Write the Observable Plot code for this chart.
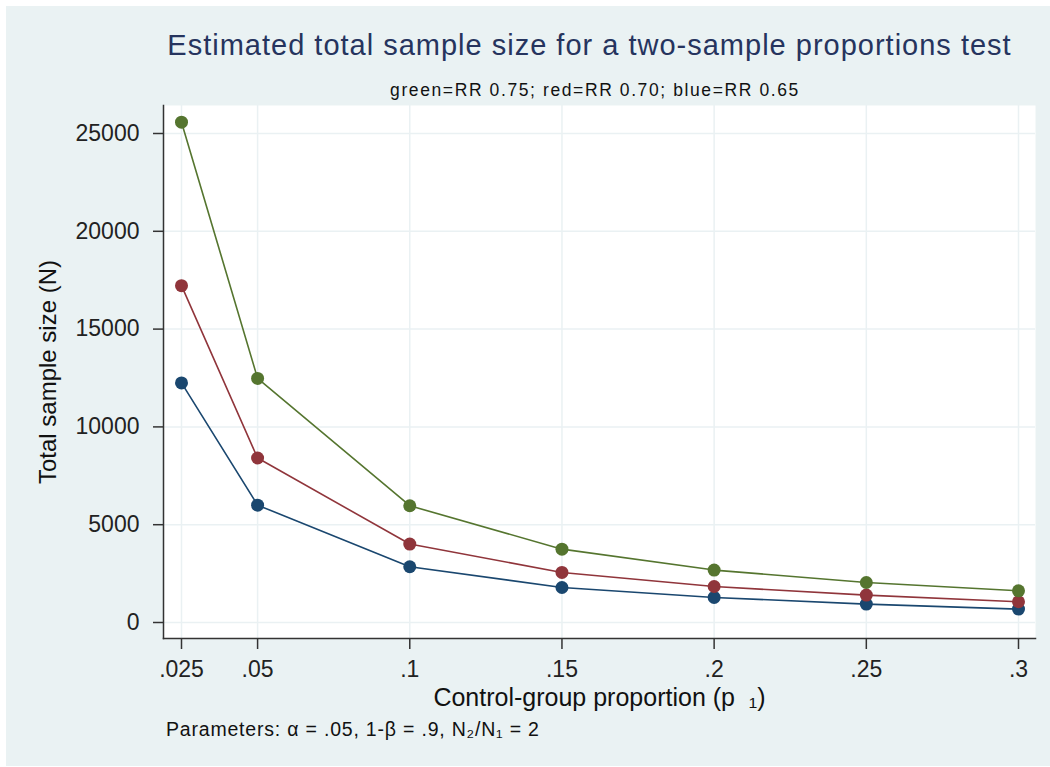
<!DOCTYPE html>
<html>
<head>
<meta charset="utf-8">
<script src="https://cdn.jsdelivr.net/npm/d3@7"></script>
<script src="https://cdn.jsdelivr.net/npm/@observablehq/plot@0.6"></script>
<style>
  html, body { margin: 0; padding: 0; background: #ffffff; width: 1050px; height: 767px; overflow: hidden; }
  #bg { position: absolute; left: 6px; top: 6px; width: 1044px; height: 760px; background: #eaf2f3; }
  .t { position: absolute; font-family: "Liberation Sans", Arial, sans-serif; white-space: nowrap; }
  #title { left: 0; width: 1179px; text-align: center; top: 29px; font-size: 29px; letter-spacing: 1px; color: #26345e; }
  #subtitle { left: 0; width: 1190px; text-align: center; top: 80px; font-size: 17.5px; letter-spacing: 1.6px; color: #111; }
  #caption { left: 166px; top: 718px; font-size: 19.5px; letter-spacing: 0.8px; color: #111; }
  #chart { position: absolute; left: 0; top: 95px; }
</style>
</head>
<body>
<div id="bg"></div>
<div id="title" class="t">Estimated total sample size for a two-sample proportions test</div>
<div id="subtitle" class="t">green=RR 0.75; red=RR 0.70; blue=RR 0.65</div>
<div id="chart"></div>
<div id="caption" class="t">Parameters: α = .05, 1-β = .9, N₂/N₁ = 2</div>
<script>
// Data
const proportions = [0.025, 0.05, 0.1, 0.15, 0.2, 0.25, 0.3];
const xTickLabels = [".025", ".05", ".1", ".15", ".2", ".25", ".3"];
const yTicks = [0, 5000, 10000, 15000, 20000, 25000];
const greenRR075 = [25580, 12480, 5970, 3750, 2680, 2045, 1620];
const redRR070 = [17220, 8410, 4010, 2560, 1840, 1400, 1060];
const blueRR065 = [12250, 6000, 2850, 1790, 1280, 940, 685];
const seriesNames = ["RR 0.65", "RR 0.70", "RR 0.75"];
const seriesColors = ["#1a476f", "#90353b", "#55752f"];

const seriesValues = [blueRR065, redRR070, greenRR075];
const rows = seriesValues.flatMap((vals, s) =>
  vals.map((v, i) => ({series: seriesNames[s], p: proportions[i], n: v}))
);

const chart = Plot.plot({
  width: 1050,
  height: 660,
  marginTop: 10,
  marginBottom: 117,
  marginLeft: 163,
  marginRight: 15,
  style: {background: "transparent", fontFamily: "Liberation Sans, Arial, sans-serif", color: "#222"},
  x: {domain: [0.025, 0.3], insetLeft: 18, insetRight: 17},
  y: {domain: [0, 25000], insetTop: 28, insetBottom: 16},
  color: {domain: seriesNames, range: seriesColors},
  marks: [
    Plot.frame({fill: "#ffffff", stroke: null}),
    Plot.gridX(proportions, {stroke: "#eaf1f3", strokeOpacity: 1, strokeWidth: 1.5}),
    Plot.gridY(yTicks, {stroke: "#eaf1f3", strokeOpacity: 1, strokeWidth: 1.5}),
    Plot.frame({anchor: "left", stroke: "#333", strokeWidth: 1.5}),
    Plot.frame({anchor: "bottom", stroke: "#333", strokeWidth: 1.5}),
    Plot.axisY(yTicks, {tickSize: 10, tickPadding: 14, fontSize: 23, label: null, stroke: "#333", strokeWidth: 1.5, tickFormat: d => String(d)}),
    Plot.axisX(proportions, {tickSize: 11, tickPadding: 11, fontSize: 23, label: null, stroke: "#333", strokeWidth: 1.5, tickFormat: d => xTickLabels[proportions.indexOf(d)]}),
    Plot.text(["Total sample size (N)"], {frameAnchor: "left", textAnchor: "middle", rotate: -90, dx: -115, fontSize: 24, fill: "#111"}),
    Plot.text(["Control-group proportion (p  ₁)"], {frameAnchor: "bottom", textAnchor: "middle", dy: 67, fontSize: 25, fill: "#111"}),
    Plot.line(rows, {x: "p", y: "n", z: "series", stroke: "series", strokeWidth: 1.6}),
    Plot.dot(rows, {x: "p", y: "n", fill: "series", r: 6.5, stroke: null})
  ]
});
document.getElementById("chart").appendChild(chart);
</script>
</body>
</html>
